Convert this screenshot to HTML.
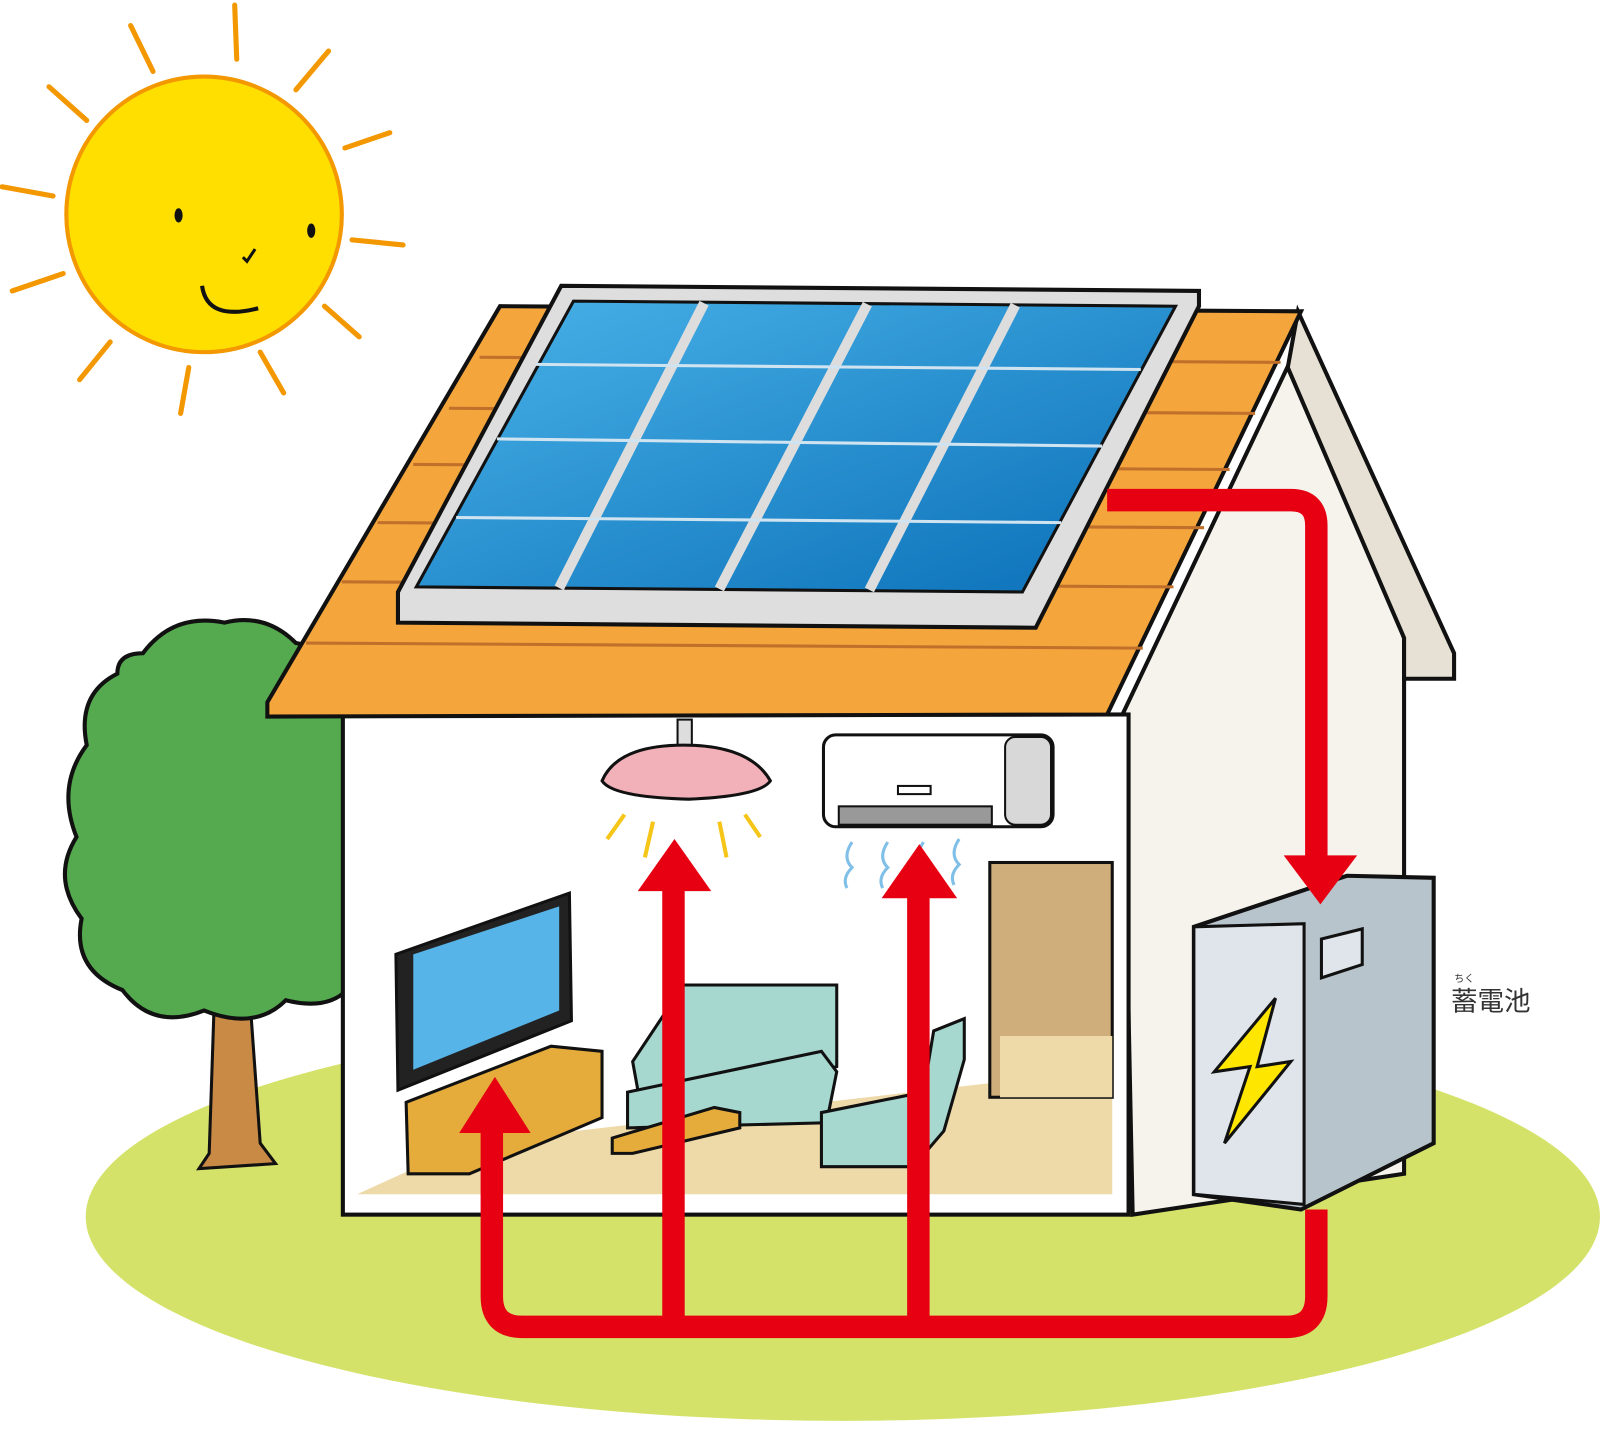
<!DOCTYPE html>
<html><head><meta charset="utf-8"><style>
html,body{margin:0;padding:0;background:#fff;}
svg{display:block;}
text{font-family:"Liberation Sans","Noto Sans CJK JP",sans-serif;}
</style></head><body>
<svg width="1600" height="1430" viewBox="0 0 1568 1401" preserveAspectRatio="none" xmlns="http://www.w3.org/2000/svg">
<defs>
<linearGradient id="pv" x1="0" y1="0" x2="1" y2="1">
<stop offset="0" stop-color="#4ab3e8"/><stop offset="1" stop-color="#0a6fb8"/>
</linearGradient>
</defs>
<ellipse cx="826" cy="1192" rx="742" ry="200" fill="#d5e26a"/>
<g stroke="#f39800" stroke-width="5" stroke-linecap="round" fill="none">
<line x1="230" y1="5" x2="232" y2="58"/><line x1="128" y1="25" x2="150" y2="70"/>
<line x1="48" y1="85" x2="85" y2="118"/><line x1="2" y1="183" x2="52" y2="192"/>
<line x1="12" y1="285" x2="62" y2="268"/><line x1="78" y1="372" x2="108" y2="335"/>
<line x1="177" y1="405" x2="185" y2="360"/><line x1="255" y1="345" x2="278" y2="385"/>
<line x1="318" y1="300" x2="352" y2="330"/><line x1="345" y1="235" x2="395" y2="240"/>
<line x1="338" y1="145" x2="382" y2="130"/><line x1="290" y1="88" x2="322" y2="50"/>
</g>
<circle cx="200" cy="210" r="135" fill="#ffdf00" stroke="#f39800" stroke-width="4"/>
<ellipse cx="175" cy="211" rx="4" ry="7" fill="#111"/>
<ellipse cx="305" cy="226" rx="4" ry="7" fill="#111"/>
<path d="M238 252 l4 4 l8 -12" stroke="#111" stroke-width="3" fill="none"/>
<path d="M198 280 q5 35 55 22" stroke="#111" stroke-width="4" fill="none"/>
<path d="M210 980 L205 1130 L195 1145 L270 1140 L255 1120 L245 980 Z" fill="#c98a46" stroke="#111" stroke-width="3"/>
<path d="M140 640 q30 -40 80 -30 q40 -10 70 20 l50 10 l0 330 q-20 20 -60 10 q-30 30 -80 10 q-50 20 -80 -20 q-50 -20 -40 -70 q-30 -40 -5 -80 q-20 -50 10 -90 q-10 -50 30 -70 q0 -20 25 -20 z" fill="#55aa4f" stroke="#111" stroke-width="4"/>
<polygon points="1100,700 1272,338 1376,625 1376,1150 1110,1190" fill="#f5f3ec" stroke="#111" stroke-width="4"/>
<polygon points="1272,305 1425,640 1425,665 1376,665 1376,625 1262,360" fill="#e6e1d4" stroke="#111" stroke-width="4"/>
<rect x="336" y="700" width="770" height="490" fill="#fff" stroke="#111" stroke-width="4"/>
<polygon points="350,1170 460,1120 980,1060 1090,1010 1090,1170" fill="#eed9a8"/>
<rect x="970" y="845" width="120" height="230" fill="#d0ae7c" stroke="#111" stroke-width="3"/>
<rect x="980" y="1015" width="110" height="60" fill="#eed9a8"/>
<polygon points="262,688 490,300 1275,305 1085,700 262,702" fill="#f4a53c" stroke="#111" stroke-width="4"/>
<g stroke="#c0702a" stroke-width="3">
<line x1="300" y1="630" x2="1120" y2="635"/><line x1="335" y1="570" x2="1150" y2="575"/>
<line x1="370" y1="512" x2="1180" y2="517"/><line x1="405" y1="455" x2="1205" y2="460"/>
<line x1="440" y1="400" x2="1230" y2="405"/><line x1="470" y1="350" x2="1255" y2="355"/>
</g>
<polygon points="390,580 550,280 1175,285 1175,300 1015,615 390,610" fill="#dedede" stroke="#111" stroke-width="4"/>
<polygon points="408,575 562,295 1152,300 1002,580" fill="url(#pv)" stroke="#111" stroke-width="3"/>
<g stroke="#ddd" stroke-width="10">
<line x1="690" y1="297" x2="548" y2="576"/><line x1="850" y1="298" x2="705" y2="577"/><line x1="995" y1="299" x2="852" y2="578"/>
</g>
<g stroke="#cfe3f0" stroke-width="3">
<line x1="525" y1="357" x2="1118" y2="362"/><line x1="487" y1="430" x2="1080" y2="437"/><line x1="447" y1="507" x2="1040" y2="512"/>
</g>
<rect x="664" y="705" width="14" height="30" fill="#ddd" stroke="#111" stroke-width="2"/>
<path d="M590 765 q15 -35 80 -35 q65 0 85 35 q-10 15 -80 18 q-75 -2 -85 -18z" fill="#f2b0b8" stroke="#111" stroke-width="3"/>
<g stroke="#f5c518" stroke-width="4"><line x1="612" y1="798" x2="595" y2="822"/><line x1="640" y1="805" x2="632" y2="840"/><line x1="705" y1="805" x2="712" y2="840"/><line x1="730" y1="798" x2="745" y2="820"/></g>
<rect x="807" y="720" width="225" height="90" rx="12" fill="#fff" stroke="#111" stroke-width="3"/>
<rect x="985" y="722" width="45" height="86" rx="10" fill="#d8d8d8" stroke="#111" stroke-width="2"/>
<rect x="822" y="790" width="150" height="18" fill="#999" stroke="#111" stroke-width="2"/>
<rect x="880" y="770" width="32" height="8" fill="#fff" stroke="#111" stroke-width="2"/>
<g stroke="#7fbfe8" stroke-width="3" fill="none"><path d="M835 825 q-10 15 0 25 q-10 10 -5 20"/><path d="M870 825 q-10 15 0 25 q-10 10 -5 20"/><path d="M905 825 q-10 15 0 25"/><path d="M940 822 q-10 15 0 25 q-10 10 -5 20"/></g>
<polygon points="388,935 558,875 560,1000 390,1068" fill="#222" stroke="#111" stroke-width="3"/>
<polygon points="405,935 548,888 548,990 405,1048" fill="#56b4e8"/>
<polygon points="398,1080 540,1025 590,1030 590,1095 460,1150 400,1150" fill="#e5ac3c" stroke="#111" stroke-width="3"/>
<path d="M670 965 l150 0 l0 80 l-190 50 l-10 -55 z" fill="#a6d8d0" stroke="#111" stroke-width="3"/>
<polygon points="615,1070 805,1030 820,1050 810,1100 615,1105" fill="#a6d8d0" stroke="#111" stroke-width="3"/>
<polygon points="600,1115 700,1085 725,1090 725,1105 620,1130 600,1130" fill="#e5ac3c" stroke="#111" stroke-width="3"/>
<path d="M805 1090 l100 -20 l10 -60 l30 -12 l0 40 l-20 70 l-30 35 l-90 0 z" fill="#a6d8d0" stroke="#111" stroke-width="3"/>
<polygon points="1170,908 1320,858 1405,860 1405,1120 1275,1185 1170,1170" fill="#b8c4cc" stroke="#111" stroke-width="4"/>
<polygon points="1170,908 1278,905 1278,1180 1170,1170" fill="#dfe5ea" stroke="#111" stroke-width="3"/>
<polygon points="1295,920 1335,910 1335,945 1295,958" fill="#dfe5ea" stroke="#111" stroke-width="3"/>
<polygon points="1250,978 1190,1050 1225,1045 1200,1120 1265,1040 1232,1045" fill="#ffe600" stroke="#111" stroke-width="3"/>
<text x="1422" y="990" font-size="26" fill="#333">蓄電池</text>
<text x="1425" y="962" font-size="10" fill="#333">ちく</text>
<g fill="none" stroke="#e60012" stroke-width="22">
<path d="M1085 490 L1265 490 q25 0 25 25 L1290 845"/>
<path d="M1290 1185 L1290 1270 q0 30 -30 30 L512 1300 q-30 0 -30 -30 L482 1100"/>
<line x1="660" y1="1300" x2="660" y2="865"/>
<line x1="900" y1="1300" x2="900" y2="870"/>
</g>
<g fill="#e60012">
<polygon points="1258,838 1330,838 1294,886"/>
<polygon points="450,1110 520,1110 485,1055"/>
<polygon points="625,873 697,873 661,822"/>
<polygon points="864,880 938,880 901,827"/>
</g>
</svg>
</body></html>
